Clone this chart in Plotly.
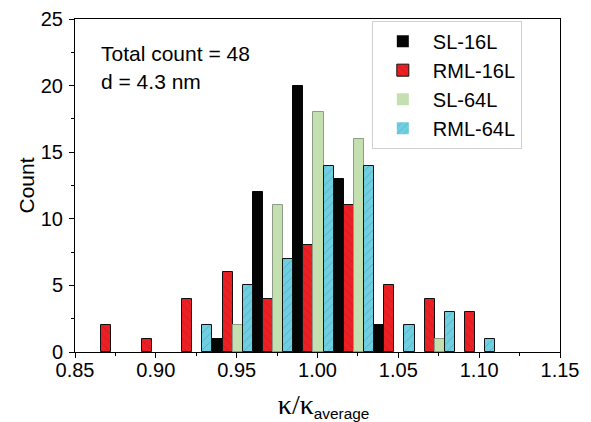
import plotly.graph_objects as go

# Bin centers (bin size 0.025, starting at 0.86)
bin_centers = [0.8725, 0.8975, 0.9225, 0.9475, 0.9725, 0.9975, 1.0225, 1.0475, 1.0725, 1.0975]

sl_16l = [0, 0, 0, 1, 12, 20, 13, 2, 0, 0]
rml_16l = [2, 1, 4, 6, 4, 8, 11, 5, 4, 3]
sl_64l = [0, 0, 0, 2, 11, 18, 16, 0, 1, 0]
rml_64l = [0, 0, 2, 5, 7, 14, 14, 2, 3, 1]

x_ticks = [0.85, 0.90, 0.95, 1.00, 1.05, 1.10, 1.15]
y_ticks = [0, 5, 10, 15, 20, 25]

FONT = "Liberation Sans, Arial, sans-serif"


def widths(vals, w):
    # no outline on empty bins
    return [w if v > 0 else 0 for v in vals]


fig = go.Figure()
fig.add_trace(go.Bar(x=bin_centers, y=sl_16l, name="SL-16L",
                     marker=dict(color="#050505", line=dict(color="#050505", width=widths(sl_16l, 1)))))
fig.add_trace(go.Bar(x=bin_centers, y=rml_16l, name="RML-16L",
                     marker=dict(color="#ec2024", line=dict(color="#111111", width=widths(rml_16l, 1)),
                                 pattern=dict(shape="\\", fgcolor="#a51515", size=6, solidity=0.15))))
fig.add_trace(go.Bar(x=bin_centers, y=sl_64l, name="SL-64L",
                     marker=dict(color="#c5e0b0", line=dict(color="#8c9c86", width=widths(sl_64l, 1)))))
fig.add_trace(go.Bar(x=bin_centers, y=rml_64l, name="RML-64L",
                     marker=dict(color="#6fcfe0", line=dict(color="#111111", width=widths(rml_64l, 1)),
                                 pattern=dict(shape="/", fgcolor="#3a8fa8", size=6, solidity=0.15))))

fig.update_layout(
    width=591, height=422,
    margin=dict(l=75, r=31, t=19, b=70),
    paper_bgcolor="white", plot_bgcolor="white",
    barmode="group", bargap=0, bargroupgap=0,
    font=dict(family=FONT, size=20, color="black"),
    showlegend=True,
    legend=dict(x=0.612, y=0.995, xanchor="left", yanchor="top",
                bgcolor="white", bordercolor="#d0d0d0", borderwidth=1,
                font=dict(size=20, family=FONT), traceorder="normal",
                itemwidth=50),
    annotations=[
        dict(text="Total count = 48", x=0.05, y=0.895, xref="paper", yref="paper",
             xanchor="left", yanchor="middle", showarrow=False, font=dict(size=21, family=FONT)),
        dict(text="d = 4.3 nm", x=0.05, y=0.812, xref="paper", yref="paper",
             xanchor="left", yanchor="middle", showarrow=False, font=dict(size=21, family=FONT)),
    ],
)

fig.update_xaxes(
    range=[0.85, 1.15], tickvals=x_ticks, ticktext=[f"{v:.2f}" for v in x_ticks],
    ticks="outside", ticklen=5, tickwidth=1, tickcolor="black",
    minor=dict(ticks="outside", ticklen=3, dtick=0.025, tick0=0.85, tickcolor="black", showgrid=False),
    showline=True, linecolor="black", linewidth=1, mirror=True,
    showgrid=False, zeroline=False, automargin=False,
    tickfont=dict(size=20), ticklabelstandoff=-5,
    title=dict(text='&nbsp;&nbsp;<span style="font-family:Liberation Serif, Times New Roman, serif;font-size:28px">κ/κ</span><sub>average</sub>',
               font=dict(size=22), standoff=19),
)
fig.update_yaxes(
    range=[0, 25], tickvals=y_ticks,
    ticks="outside", ticklen=5, tickwidth=1, tickcolor="black",
    minor=dict(ticks="outside", ticklen=3, dtick=2.5, tick0=0, tickcolor="black", showgrid=False),
    showline=True, linecolor="black", linewidth=1, mirror=True,
    showgrid=False, zeroline=False, automargin=False,
    tickfont=dict(size=20), ticklabelstandoff=2,
    title=dict(text="Count", font=dict(size=21), standoff=0),
)

fig.write_html("out.html", config={"displayModeBar": False},
               post_script="document.body.style.margin='0';")
